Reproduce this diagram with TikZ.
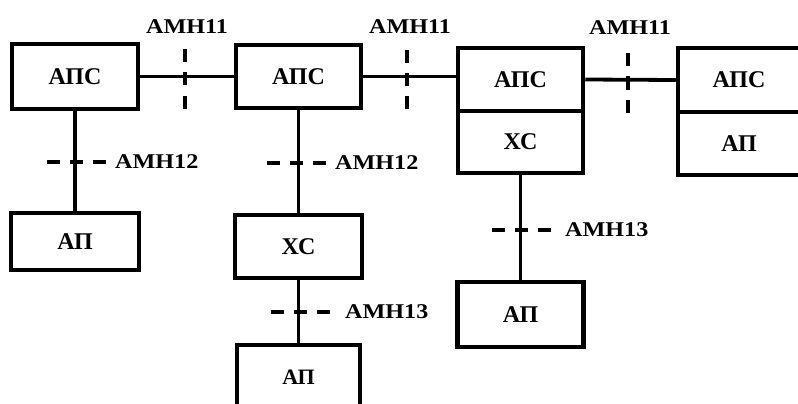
\documentclass[tikz,border=0pt]{standalone}
\usepackage{fontspec}
\setmainfont{Liberation Serif}
\usetikzlibrary{calc}
\begin{document}
\begin{tikzpicture}[x=1pt,y=-1pt,
  box/.style={draw, line width=4.5pt, inner sep=0pt, font=\fontsize{24}{24}\selectfont\bfseries},
  lnk/.style={line width=3.8pt},
  cutmark/.style={line width=4.2pt, dash pattern=on 13pt off 10pt},
  lbl/.style={font=\fontsize{21}{21}\selectfont\bfseries, inner sep=0pt}]
\newcommand{\lbltext}[1]{\scalebox{1.15}[1]{#1}}
\useasboundingbox (0,0) rectangle (798,404);
\clip (0,0) rectangle (798,404);
% top row
\node[box, minimum width=126pt, minimum height=65pt] (b1) at (75,76.5) {АПС};
\node[box, minimum width=125pt, minimum height=63pt] (b2) at (298.5,76.5) {АПС};
\node[box, minimum width=125pt, minimum height=63pt] (b3a) at (520.5,79.5) {АПС};
\node[box, minimum width=125pt, minimum height=62pt] (b3b) at (520.5,142) {ХС};
\node[box, minimum width=122pt, minimum height=64pt] (b4a) at (739,80) {АПС};
\node[box, minimum width=122pt, minimum height=63pt] (b4b) at (739,143.5) {АП};
% lower boxes
\node[box, minimum width=128pt, minimum height=57pt] (p1) at (75,241.5) {АП};
\node[box, minimum width=127pt, minimum height=63pt] (x2) at (298.5,246.5) {ХС};
\node[box, minimum width=123pt, minimum height=65pt, font=\fontsize{22}{22}\selectfont\bfseries] (p2) at (298.5,377.5) {АП};
\node[box, minimum width=126pt, minimum height=65pt] (p3) at (520.5,314.5) {АП};
% connectors
\draw[lnk] (b1.east) -- (b2.west);
\draw[lnk] (b2.east) -- (b2.east -| b3a.west);
\draw[lnk] (b3a.east) -- (b4a.west);
\draw[lnk] (b1.south) -- (p1.north);
\draw[lnk] (b2.south) -- (x2.north);
\draw[lnk] (x2.south) -- (p2.north);
\draw[lnk] (b3b.south) -- (p3.north);
% interface marks
\coordinate (m1) at (185,79);
\coordinate (m2) at (407,79.5);
\coordinate (m3) at (628,83);
\draw[cutmark] ($(m1)+(0,-29.5)$) -- ($(m1)+(0,29.5)$);
\draw[cutmark] ($(m2)+(0,-29.5)$) -- ($(m2)+(0,29.5)$);
\draw[cutmark] ($(m3)+(0,-29.5)$) -- ($(m3)+(0,29.5)$);
\coordinate (h1) at (76.5,162);
\coordinate (h2) at (296,163);
\coordinate (h3) at (300,312);
\coordinate (h4) at (521,230);
\draw[cutmark] ($(h1)+(-29.5,0)$) -- ($(h1)+(29.5,0)$);
\draw[cutmark] ($(h2)+(-29.5,0)$) -- ($(h2)+(29.5,0)$);
\draw[cutmark] ($(h3)+(-29.5,0)$) -- ($(h3)+(29.5,0)$);
\draw[cutmark] ($(h4)+(-29.5,0)$) -- ($(h4)+(29.5,0)$);
% labels
\node[lbl] (l1) at (187,27) {\lbltext{АМН11}};
\node[lbl] (l2) at (410,27) {\lbltext{АМН11}};
\node[lbl] (l3) at (630,28) {\lbltext{АМН11}};
\node[lbl, anchor=west] (l4) at (115,162) {\lbltext{АМН12}};
\node[lbl, anchor=west] (l5) at (335,163) {\lbltext{АМН12}};
\node[lbl, anchor=west] (l6) at (345,312) {\lbltext{АМН13}};
\node[lbl, anchor=west] (l7) at (565,230) {\lbltext{АМН13}};
\end{tikzpicture}
\end{document}
